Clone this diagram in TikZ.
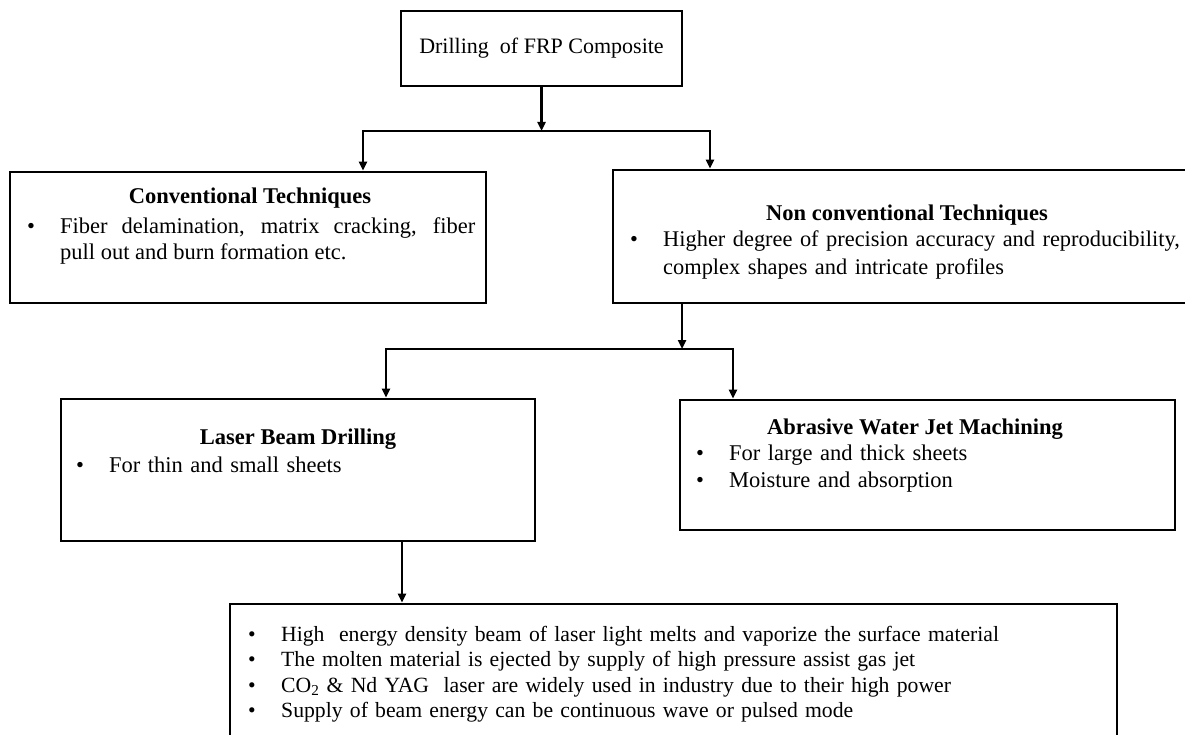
\documentclass[tikz,border=0pt]{standalone}
\usepackage{fontspec}
\setmainfont{Liberation Serif}
\usetikzlibrary{arrows.meta, positioning, calc}
\newcommand{\bpt}[1]{\noindent\hangindent=33pt\hangafter=1\makebox[33pt][l]{\textbullet}#1\par}
\tikzset{
        >={Triangle[length=9pt,width=8pt]},
        every node/.append style={font=\fontsize{22.5}{27}\selectfont},
        box/.style={draw, line width=2.8pt, inner sep=0pt},
        title/.style={inner sep=0pt, font=\fontsize{22.5}{27}\selectfont\bfseries},
        blist/.style={anchor=north west, inner sep=0pt, align=left},
        arr/.style={->, line width=2.4pt},
        }
\begin{document}
\begin{tikzpicture}[x=1pt, y=-1pt]
        \useasboundingbox (0,0) rectangle (1185,735);
        % boxes
        \node[box, minimum width=281pt, minimum height=75pt, font=\fontsize{22}{26}\selectfont](top) at (541.5,48.5) {Drilling\ \ of FRP Composite};
        \node[box, minimum width=476pt, minimum height=131pt](conv) at (248,237.5) {};
        \node[box, minimum width=582pt, minimum height=133pt](nonconv) at (904,236.5) {};
        \node[box, minimum width=474pt, minimum height=142pt](laser) at (298,470) {};
        \node[box, minimum width=495pt, minimum height=130pt](abrasive) at (927.5,465) {};
        \node[box, minimum width=887pt, minimum height=156pt](bottom) at (673.5,682) {};
        % texts
        \node[title](convt) at (250,198) {Conventional Techniques};
        \node[blist, text width=448pt, align=justify, font=\fontsize{22.5}{26}\selectfont](convl) at (27,217)
              {\bpt{Fiber delamination, matrix cracking, fiber\linebreak pull out and burn formation etc.}};
        \node[title](nonconvt) at (907,215) {Non conventional Techniques};
        \node[blist, text width=560pt, font=\fontsize{22.4}{28}\selectfont](nonconvl) at (630,231)
              {\bpt{Higher degree of precision accuracy and reproducibility,\newline complex shapes and intricate profiles}};
        \node[title](lasert) at (298,439) {Laser Beam Drilling};
        \node[blist, text width=420pt](laserl) at (76,457) {\bpt{For thin and small sheets}};
        \node[title](abrasivet) at (915,429) {Abrasive Water Jet Machining};
        \node[blist, text width=440pt](abrasivel) at (696,445)
              {\bpt{For large and thick sheets}\bpt{Moisture and absorption}};
        \node[blist, text width=860pt, font=\fontsize{21.7}{25.3}\selectfont](bottoml) at (248,626)
              {\bpt{High\ \ energy density beam of laser light melts and vaporize the surface material}%
               \bpt{The molten material is ejected by supply of high pressure assist gas jet}%
               \bpt{CO\textsubscript{2} \& Nd YAG\ \ laser are widely used in industry due to their high power}%
               \bpt{Supply of beam energy can be continuous wave or pulsed mode}};
        % connectors
        \coordinate (j1) at (541.5,131);
        \coordinate (j2) at (682,349);
        \draw[arr] (top.south) -- (j1);
        \draw[arr] (j1) -| ([xshift=115pt]conv.north);
        \draw[arr] (j1) -| ([xshift=-194pt]nonconv.north);
        \draw[arr] ([xshift=-222pt]nonconv.south) -- (j2);
        \draw[arr] (j2) -| ([xshift=88pt]laser.north);
        \draw[arr] (j2) -| ([xshift=-194.5pt]abrasive.north);
        \draw[arr] ([xshift=104pt]laser.south) -- ([xshift=-271.5pt]bottom.north);
\end{tikzpicture}
\end{document}
